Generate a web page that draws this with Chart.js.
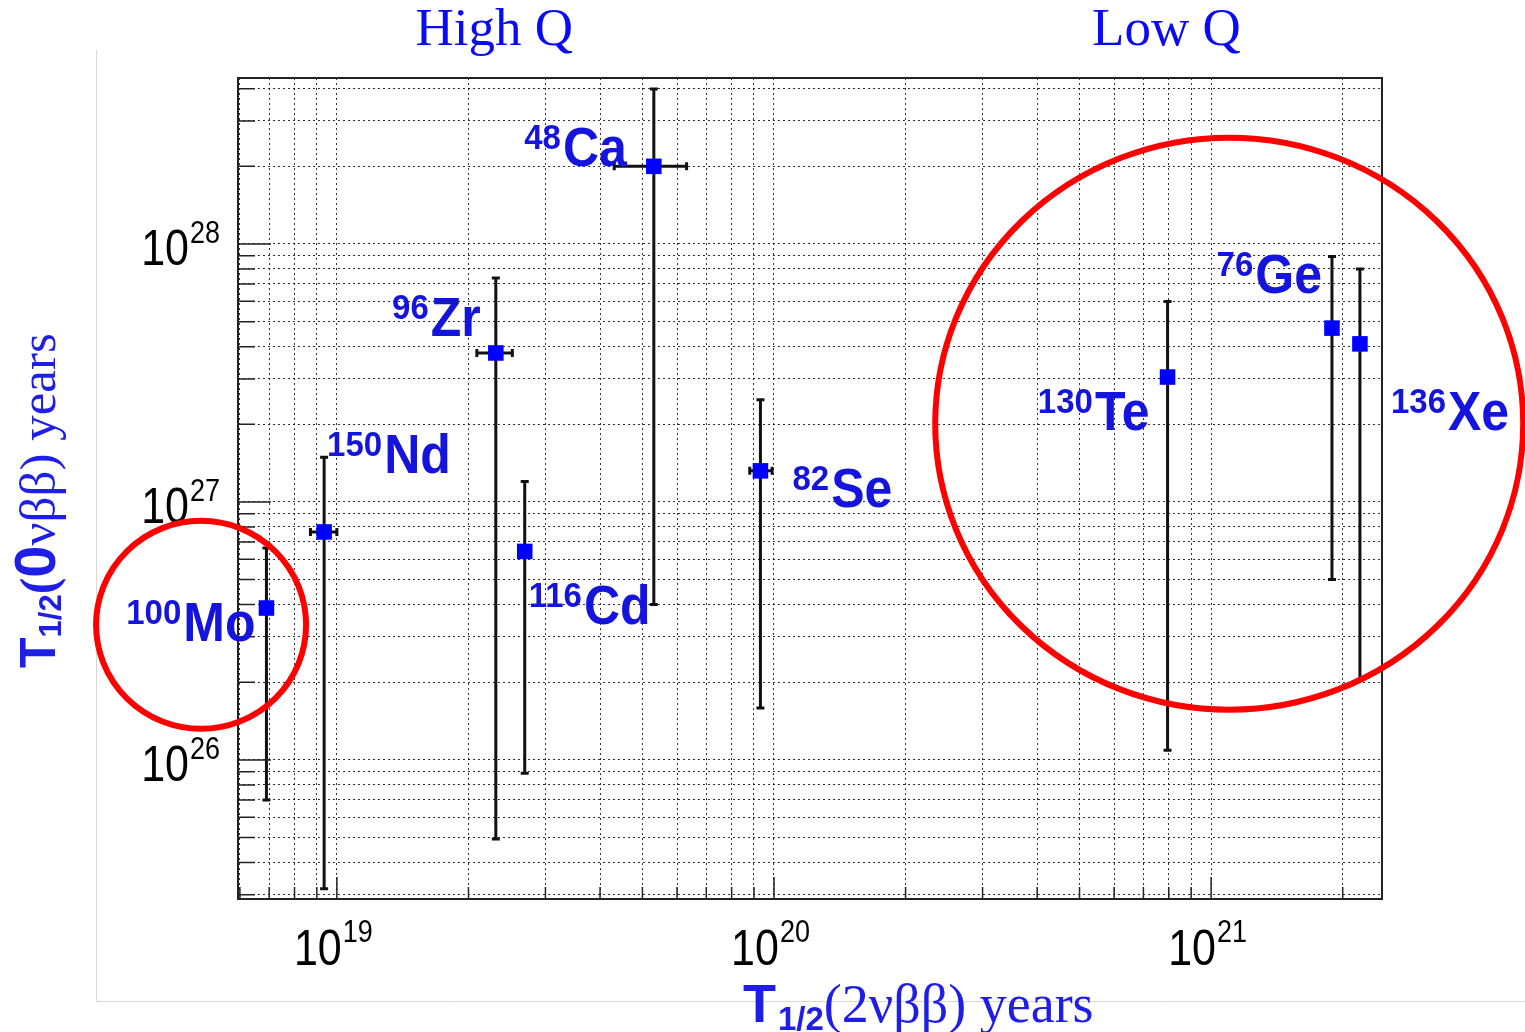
<!DOCTYPE html>
<html>
<head>
<meta charset="utf-8">
<script src="https://cdn.jsdelivr.net/npm/chart.js@4.4.0/dist/chart.umd.min.js"></script>
<style>
  html, body { margin: 0; padding: 0; background: #fff; }
</style>
</head>
<body>
<canvas id="chart" width="1525" height="1032"></canvas>
<script>
// isotopes
const massNumbers = ['100', '150', '96', '116', '48', '82', '130', '76', '136'];
const elements = ['Mo', 'Nd', 'Zr', 'Cd', 'Ca', 'Se', 'Te', 'Ge', 'Xe'];

// T1/2(2vbb) in years, with the x error where one is drawn
const halfLife2nu = [6.9e18, 9.35e18, 2.31e19, 2.69e19, 5.31e19, 9.31e19, 7.95e20, 1.89e21, 2.19e21];
const halfLife2nuLow = [null, 8.7e18, 2.09e19, null, 4.31e19, 8.8e19, null, null, null];
const halfLife2nuHigh = [null, 1.0e19, 2.52e19, null, 6.31e19, 9.9e19, null, null, null];

// T1/2(0vbb) in years
const halfLife0nu = [3.88e26, 7.65e26, 3.78e27, 6.43e26, 2.0e28, 1.32e27, 3.05e27, 4.72e27, 4.1e27];
const halfLife0nuLow = [7.0e25, 3.17e25, 4.94e25, 8.88e25, 4.0e26, 1.59e26, 1.09e26, 5.0e26, 2.04e26];
const halfLife0nuHigh = [6.63e26, 1.49e27, 7.38e27, 1.2e27, 3.99e28, 2.49e27, 5.99e27, 8.95e27, 8.0e27];

const xMajorTicks = [1e19, 1e20, 1e21];
const yMajorTicks = [1e26, 1e27, 1e28];

const regionNames = ['High Q', 'Low Q'];
const regionCenters = [2.29e19, 7.9e20];

// axis ranges
const X_MIN = 5.94e18, X_MAX = 2.46e21;
const Y_MIN = 2.89e25, Y_MAX = 4.40e28;

// label placement relative to the marker (pixels)
const labelOffsets = [
    { align: 'right', dx: -11, dy: 33 },
    { align: 'left', dx: 3, dy: -59 },
    { align: 'right', dx: -15, dy: -17 },
    { align: 'left', dx: 4, dy: 73 },
    { align: 'right', dx: -27, dy: 0 },
    { align: 'left', dx: 32, dy: 36 },
    { align: 'right', dx: -18, dy: 53 },
    { align: 'right', dx: -10, dy: -35 },
    { align: 'left', dx: 31, dy: 86 }
];

// red highlight circles (center in data units, radius in px)
const highlights = [
    { x: 4.89e18, y: 3.34e26, rx: 105, ry: 104 },
    { x: 1.1e21, y: 2.01e27, rx: 294, ry: 286 }
];

const LABEL_BLUE = '#1414dc';
const SANS = '"Liberation Sans", Arial, Helvetica, sans-serif';
const SERIF = '"Liberation Serif", "Times New Roman", serif';

function gridValues(min, max) {
    const out = [];
    for (let e = Math.floor(Math.log10(min)); e <= Math.ceil(Math.log10(max)); e++) {
        for (let m = 1; m <= 9; m++) {
            const v = m * Math.pow(10, e);
            if (v >= min && v <= max) out.push(v);
        }
    }
    return out;
}

function fillStretched(ctx, text, x, y, sy) {
    ctx.save();
    ctx.translate(x, y);
    ctx.scale(1, sy);
    ctx.fillText(text, 0, 0);
    ctx.restore();
}

const rootStyle = {
    id: 'rootStyle',
    beforeDraw(chart) {
        const ctx = chart.ctx;
        ctx.save();
        ctx.fillStyle = '#fff';
        ctx.fillRect(0, 0, chart.width, chart.height);
        // faint slide frame
        ctx.strokeStyle = '#d8d8d8';
        ctx.lineWidth = 1;
        ctx.beginPath();
        ctx.moveTo(96.5, 50);
        ctx.lineTo(96.5, 1001.5);
        ctx.lineTo(chart.width, 1001.5);
        ctx.stroke();
        ctx.restore();
    },
    beforeDatasetsDraw(chart) {
        const ctx = chart.ctx;
        const xs = chart.scales.x, ys = chart.scales.y;
        const a = chart.chartArea;
        ctx.save();
        // error bars
        ctx.strokeStyle = '#111';
        ctx.lineWidth = 3;
        const cap = 4;
        for (let i = 0; i < elements.length; i++) {
            const px = xs.getPixelForValue(halfLife2nu[i]);
            const py = ys.getPixelForValue(halfLife0nu[i]);
            const yTop = Math.max(a.top, ys.getPixelForValue(halfLife0nuHigh[i]));
            const yBot = Math.min(a.bottom, ys.getPixelForValue(halfLife0nuLow[i]));
            ctx.beginPath();
            ctx.moveTo(px, yTop); ctx.lineTo(px, yBot);
            ctx.moveTo(px - cap, yTop); ctx.lineTo(px + cap, yTop);
            ctx.moveTo(px - cap, yBot); ctx.lineTo(px + cap, yBot);
            if (halfLife2nuLow[i] !== null) {
                const xl = xs.getPixelForValue(halfLife2nuLow[i]);
                const xr = xs.getPixelForValue(halfLife2nuHigh[i]);
                ctx.moveTo(xl, py); ctx.lineTo(xr, py);
                ctx.moveTo(xl, py - cap); ctx.lineTo(xl, py + cap);
                ctx.moveTo(xr, py - cap); ctx.lineTo(xr, py + cap);
            }
            ctx.stroke();
        }
        ctx.restore();
    },
    afterDatasetsDraw(chart) {
        const ctx = chart.ctx;
        const xs = chart.scales.x, ys = chart.scales.y;
        const a = chart.chartArea;
        ctx.save();

        // frame
        ctx.strokeStyle = '#222';
        ctx.lineWidth = 2;
        ctx.strokeRect(a.left, a.top, a.right - a.left, a.bottom - a.top);

        // inner ticks
        ctx.lineWidth = 1.5;
        ctx.beginPath();
        gridValues(X_MIN, X_MAX).forEach(v => {
            const px = xs.getPixelForValue(v);
            const len = xMajorTicks.includes(v) ? 22 : 12;
            ctx.moveTo(px, a.bottom); ctx.lineTo(px, a.bottom - len);
        });
        gridValues(Y_MIN, Y_MAX).forEach(v => {
            const py = ys.getPixelForValue(v);
            const len = yMajorTicks.includes(v) ? 33 : 17;
            ctx.moveTo(a.left, py); ctx.lineTo(a.left + len, py);
        });
        ctx.stroke();

        // tick labels 10^n
        ctx.fillStyle = '#000';
        ctx.textBaseline = 'alphabetic';
        const baseFont = '43px ' + SANS, expFont = '27px ' + SANS;
        xMajorTicks.forEach(v => {
            const exp = String(Math.round(Math.log10(v)));
            ctx.font = baseFont; const wb = ctx.measureText('10').width;
            ctx.font = expFont; const we = ctx.measureText(exp).width;
            const left = xs.getPixelForValue(v) - (wb + we) / 2 - 4;
            ctx.font = baseFont; fillStretched(ctx, '10', left, a.bottom + 66, 1.17);
            ctx.font = expFont; fillStretched(ctx, exp, left + wb + 1, a.bottom + 43, 1.17);
        });
        yMajorTicks.forEach(v => {
            const exp = String(Math.round(Math.log10(v)));
            ctx.font = baseFont; const wb = ctx.measureText('10').width;
            ctx.font = expFont; const we = ctx.measureText(exp).width;
            const py = ys.getPixelForValue(v);
            const left = a.left - 18 - wb - we - 1;
            ctx.font = baseFont; fillStretched(ctx, '10', left, py + 21, 1.17);
            ctx.font = expFont; fillStretched(ctx, exp, left + wb + 1, py - 1, 1.17);
        });

        // highlight circles
        ctx.strokeStyle = '#ff0000';
        ctx.lineWidth = 6;
        highlights.forEach(h => {
            ctx.beginPath();
            ctx.ellipse(xs.getPixelForValue(h.x), ys.getPixelForValue(h.y), h.rx, h.ry, 0, 0, Math.PI * 2);
            ctx.stroke();
        });

        // isotope labels
        ctx.fillStyle = LABEL_BLUE;
        const supFont = 'bold 33px ' + SANS, mainFont = 'bold 50px ' + SANS;
        elements.forEach((el, i) => {
            const off = labelOffsets[i];
            const px = xs.getPixelForValue(halfLife2nu[i]);
            const py = ys.getPixelForValue(halfLife0nu[i]);
            ctx.font = supFont; const ws = ctx.measureText(massNumbers[i]).width;
            ctx.font = mainFont; const wm = ctx.measureText(el).width;
            const total = ws + 2 + wm;
            const left = off.align === 'right' ? px + off.dx - total : px + off.dx;
            const base = py + off.dy;
            ctx.font = supFont; fillStretched(ctx, massNumbers[i], left, base - 17, 1.08);
            ctx.font = mainFont; fillStretched(ctx, el, left + ws + 2, base, 1.12);
        });

        // region captions
        ctx.fillStyle = '#0a0af5';
        ctx.font = '53px ' + SERIF;
        ctx.textAlign = 'center';
        regionNames.forEach((name, i) => {
            ctx.fillText(name, xs.getPixelForValue(regionCenters[i]), a.top - 33);
        });
        ctx.textAlign = 'left';

        // x axis title
        ctx.fillStyle = '#1e1ee6';
        let x = 743;
        const xBase = 1022;
        ctx.font = 'bold 54px ' + SANS; ctx.fillText('T', x, xBase); x += ctx.measureText('T').width + 2;
        ctx.font = 'bold 33px ' + SANS; ctx.fillText('1/2', x, xBase + 8); x += ctx.measureText('1/2').width;
        ctx.font = '54px ' + SERIF; ctx.fillText('(2\u03bd\u03b2\u03b2) years', x, xBase);

        // y axis title (rotated)
        ctx.save();
        ctx.translate(55, 668);
        ctx.rotate(-Math.PI / 2);
        let t = 0;
        ctx.font = 'bold 50px ' + SANS; ctx.fillText('T', t, 0); t += ctx.measureText('T').width;
        ctx.font = 'bold 31px ' + SANS; ctx.fillText('1/2', t, 6); t += ctx.measureText('1/2').width;
        ctx.font = 'bold 50px ' + SERIF; ctx.fillText('(', t, 0); t += ctx.measureText('(').width;
        ctx.font = 'bold 58px ' + SANS; ctx.fillText('0', t, 0); t += ctx.measureText('0').width;
        ctx.font = '51px ' + SERIF; ctx.fillText('\u03bd\u03b2\u03b2) years', t, 0);
        ctx.restore();

        ctx.restore();
    }
};

const points = halfLife2nu.map((v, i) => ({ x: v, y: halfLife0nu[i] }));

const gridOpts = { color: 'rgba(0,0,0,0.8)', lineWidth: 1, drawTicks: false };

new Chart(document.getElementById('chart').getContext('2d'), {
    type: 'scatter',
    data: {
        datasets: [{
            data: points,
            pointStyle: 'rect',
            pointRadius: 11,
            pointHoverRadius: 11,
            backgroundColor: '#0000ff',
            borderWidth: 0
        }]
    },
    options: {
        responsive: false,
        animation: false,
        events: [],
        layout: { padding: { left: 238, top: 78, right: 143, bottom: 133 } },
        plugins: { legend: { display: false }, tooltip: { enabled: false } },
        scales: {
            x: {
                type: 'logarithmic', min: X_MIN, max: X_MAX,
                afterBuildTicks: s => { s.ticks = gridValues(X_MIN, X_MAX).map(v => ({ value: v })); },
                ticks: { display: false },
                grid: gridOpts,
                border: { display: false, dash: [2, 3] }
            },
            y: {
                type: 'logarithmic', min: Y_MIN, max: Y_MAX,
                afterBuildTicks: s => { s.ticks = gridValues(Y_MIN, Y_MAX).map(v => ({ value: v })); },
                ticks: { display: false },
                grid: gridOpts,
                border: { display: false, dash: [2, 3] }
            }
        }
    },
    plugins: [rootStyle]
});
</script>
</body>
</html>
